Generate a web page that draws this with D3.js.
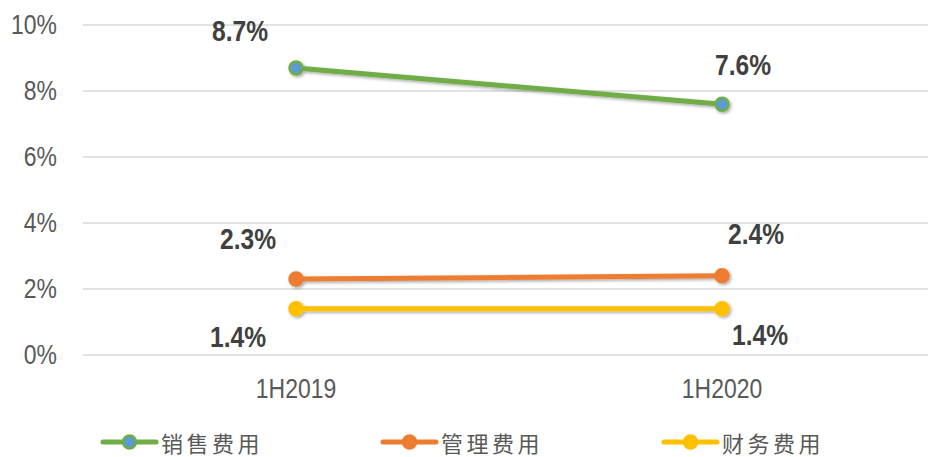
<!DOCTYPE html>
<html>
<head>
<meta charset="utf-8">
<script src="https://d3js.org/d3.v7.min.js"></script>
<style>
  html, body { margin: 0; padding: 0; background: #fff; }
  svg { display: block; }
</style>
</head>
<body>
<div id="chart"></div>
<script>
// chart data
const periods = ["1H2019", "1H2020"];
const seriesNames = ["销售费用", "管理费用", "财务费用"];
const salesExp = [8.7, 7.6];
const adminExp = [2.3, 2.4];
const financeExp = [1.4, 1.4];
const yTicks = [0, 2, 4, 6, 8, 10];

const width = 928, height = 457;
const margin = { top: 25, right: -7, bottom: 102, left: 83 };
const narrow = "scale(0.82,1)"; // no Arial Narrow here, so squeeze Liberation Sans
const fontFam = "'Liberation Sans', Arial, sans-serif";

const series = [
  { name: seriesNames[0], values: salesExp, color: "#70AD47", marker: "#5B9BD5" },
  { name: seriesNames[1], values: adminExp, color: "#ED7D31", marker: "#ED7D31" },
  { name: seriesNames[2], values: financeExp, color: "#FFC000", marker: "#FFC000" }
];

// label offsets (px) relative to each point: [left point, right point]
const labelOffsets = [
  [[-56, -37], [21, -40]],
  [[-48, -40], [34, -42]],
  [[-58, 28], [38, 26]]
];

const svg = d3.select("#chart").append("svg")
  .attr("width", width)
  .attr("height", height);

// soft drop shadow like the office chart
const defs = svg.append("defs");
const f = defs.append("filter").attr("id", "shadow")
  .attr("x", "-20%").attr("y", "-50%").attr("width", "140%").attr("height", "200%");
f.append("feDropShadow").attr("dx", 1.5).attr("dy", 1.5)
  .attr("stdDeviation", 1.8).attr("flood-color", "#000").attr("flood-opacity", 0.35);

const x = d3.scaleBand()
  .domain(periods)
  .range([margin.left, width - margin.right]);

const y = d3.scaleLinear()
  .domain([0, 10])
  .range([height - margin.bottom, margin.top]);

// gridlines
svg.append("g")
  .selectAll("line")
  .data(yTicks)
  .join("line")
  .attr("x1", margin.left)
  .attr("x2", width)
  .attr("y1", d => y(d))
  .attr("y2", d => y(d))
  .attr("stroke", "#d9d9d9")
  .attr("stroke-width", 1.5);

// y axis labels
const yAxis = d3.axisLeft(y).tickValues(yTicks).tickFormat(d => d + "%").tickSize(0).tickPadding(0);
svg.append("g")
  .attr("transform", `translate(57,0)`)
  .call(yAxis)
  .call(g => g.select(".domain").remove())
  .selectAll("text")
  .attr("x", 0)
  .attr("transform", narrow)
  .attr("fill", "#595959")
  .style("font-family", fontFam)
  .style("font-size", "28px");

// x axis labels
const xAxis = d3.axisBottom(x).tickSize(0).tickPadding(0);
svg.append("g")
  .attr("transform", `translate(0,${y(0) + 23})`)
  .call(xAxis)
  .call(g => g.select(".domain").remove())
  .selectAll("text")
  .attr("transform", narrow)
  .attr("fill", "#595959")
  .style("font-family", fontFam)
  .style("font-size", "28px");

const cx = (d, i) => x(periods[i]) + x.bandwidth() / 2;

const line = d3.line()
  .x((d, i) => cx(d, i))
  .y(d => y(d));

const sg = svg.append("g").selectAll("g")
  .data(series)
  .join("g")
  .attr("filter", "url(#shadow)");

sg.append("path")
  .attr("d", s => line(s.values))
  .attr("fill", "none")
  .attr("stroke", s => s.color)
  .attr("stroke-width", 5)
  .attr("stroke-linecap", "round");

sg.each(function(s) {
  d3.select(this).selectAll("circle")
    .data(s.values)
    .join("circle")
    .attr("cx", (d, i) => cx(d, i))
    .attr("cy", d => y(d))
    .attr("r", 6.5)
    .attr("fill", s.marker)
    .attr("stroke", s.color)
    .attr("stroke-width", 2.5);
});

// data labels
series.forEach((s, si) => {
  svg.append("g").selectAll("text")
    .data(s.values)
    .join("text")
    .attr("transform", (d, i) =>
      `translate(${cx(d, i) + labelOffsets[si][i][0]},${y(d) + labelOffsets[si][i][1]}) ${narrow}`)
    .attr("dominant-baseline", "central")
    .attr("text-anchor", "middle")
    .attr("fill", "#404040")
    .style("font-family", fontFam)
    .style("font-weight", "bold")
    .style("font-size", "30px")
    .text(d => d.toFixed(1) + "%");
});

// legend
const legendX = [103, 383, 664];
const legend = svg.append("g").selectAll("g")
  .data(series)
  .join("g")
  .attr("transform", (d, i) => `translate(${legendX[i]},442)`);

legend.append("line")
  .attr("x1", 0).attr("x2", 53)
  .attr("y1", 0).attr("y2", 0)
  .attr("stroke", d => d.color)
  .attr("stroke-width", 5)
  .attr("stroke-linecap", "round");

legend.append("circle")
  .attr("cx", 26.5).attr("cy", 0)
  .attr("r", 6.5)
  .attr("fill", d => d.marker)
  .attr("stroke", d => d.color)
  .attr("stroke-width", 2.5);

legend.append("text")
  .attr("x", 58)
  .attr("y", 0)
  .attr("dominant-baseline", "central")
  .attr("fill", "#595959")
  .style("font-family", "'Noto Sans CJK SC', sans-serif")
  .style("font-size", "22px")
  .style("letter-spacing", "3.5px")
  .text(d => d.name);
</script>
</body>
</html>
